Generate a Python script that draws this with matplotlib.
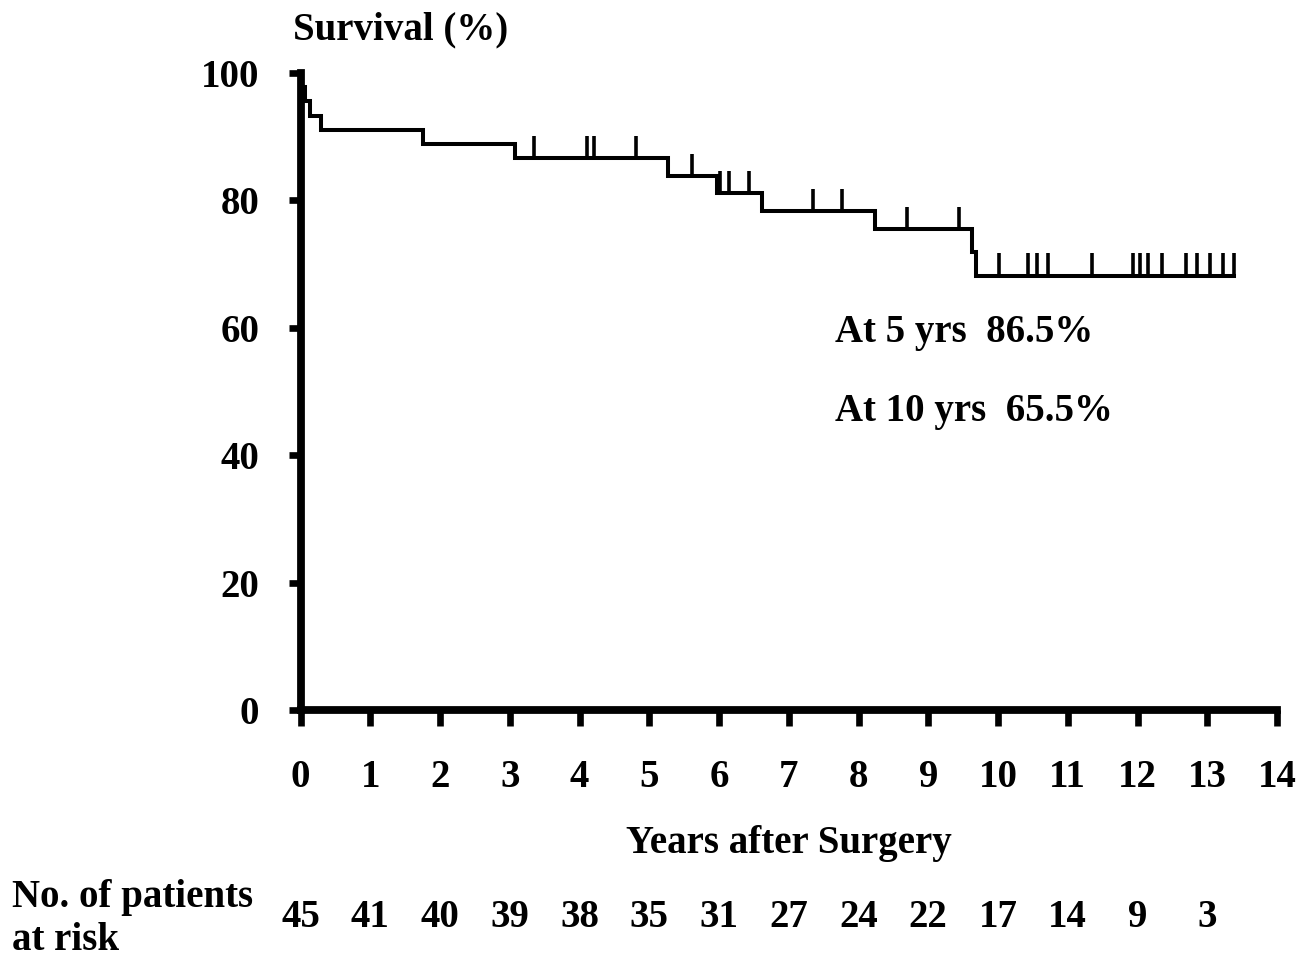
import numpy as np
import matplotlib
matplotlib.use("Agg")
import matplotlib.pyplot as plt

plt.rcParams['font.family'] = ['Liberation Serif', 'DejaVu Serif']
plt.rcParams['font.weight'] = 'bold'

# Kaplan-Meier steps (years, survival % after the step)
step_times = [0.0, 0.02, 0.06, 0.13, 0.29, 1.76, 3.07, 5.27, 5.97, 6.62, 8.24, 9.63, 9.68]
step_surv = [100, 97.8, 95.6, 93.3, 91.1, 88.9, 86.6, 83.8, 81.1, 78.3, 75.5, 71.9, 68.2]
last_followup = 13.38

# censored patients (years)
censored = [3.35, 4.11, 4.21, 4.81, 5.61, 6.02, 6.14, 6.43, 7.35, 7.76, 8.69, 9.44,
            10.01, 10.43, 10.56, 10.72, 11.35, 11.94, 12.04, 12.15, 12.35, 12.69,
            12.85, 13.04, 13.22, 13.38]

years = list(range(0, 15))
at_risk_years = list(range(0, 14))
at_risk = [45, 41, 40, 39, 38, 35, 31, 27, 24, 22, 17, 14, 9, 3]

fs = 28

fig = plt.figure(figsize=(12.99, 9.63), dpi=100)
ax = fig.add_axes([300.5 / 1299, (963 - 710) / 963, 976.5 / 1299, 637 / 963])

# survival curve
xs = step_times + [last_followup]
ys = step_surv + [step_surv[-1]]
ax.step(xs, ys, where='post', color='black', lw=2.9, clip_on=False,
        solid_joinstyle='miter')

# censor marks
idx = np.searchsorted(step_times, censored, side='right') - 1
cy = np.array(step_surv)[idx]
ax.vlines(censored, cy, cy + 3.5, color='black', lw=2.6, clip_on=False)

ax.set_xlim(0, 14)
ax.set_ylim(0, 100)
ax.set_xticks(years)
ax.set_yticks([0, 20, 40, 60, 80, 100])
for s in ['top', 'right']:
    ax.spines[s].set_visible(False)
for s in ['left', 'bottom']:
    ax.spines[s].set_linewidth(5.6)
    ax.spines[s].set_capstyle('projecting')
ax.tick_params(axis='x', direction='out', length=11.5, width=4.8, pad=24, labelsize=fs)
ax.tick_params(axis='y', direction='out', length=8.6, width=4.8, pad=21, labelsize=fs)
for lab in ax.get_xticklabels() + ax.get_yticklabels():
    lab.set_fontweight('bold')

tr = ax.get_xaxis_transform()
ax.text(7, -0.209, 'Years after Surgery', transform=tr, ha='center', va='center',
        fontsize=fs, fontweight='bold')
for x, n in zip(at_risk_years, at_risk):
    ax.text(x, -0.326, str(n), transform=tr, ha='center', va='center',
            fontsize=fs, fontweight='bold')

fig.text(12 / 1299, (963 - 897) / 963, 'No. of patients', ha='left', va='center',
         fontsize=fs, fontweight='bold')
fig.text(12 / 1299, (963 - 940) / 963, 'at risk', ha='left', va='center',
         fontsize=fs, fontweight='bold')
fig.text(293 / 1299, (963 - 30) / 963, 'Survival (%)', ha='left', va='center',
         fontsize=fs, fontweight='bold')

ax.text(7.66, 59.2, 'At 5 yrs  86.5%', ha='left', va='center', fontsize=fs, fontweight='bold')
ax.text(7.66, 46.8, 'At 10 yrs  65.5%', ha='left', va='center', fontsize=fs, fontweight='bold')

fig.savefig('out.png', dpi=100)
